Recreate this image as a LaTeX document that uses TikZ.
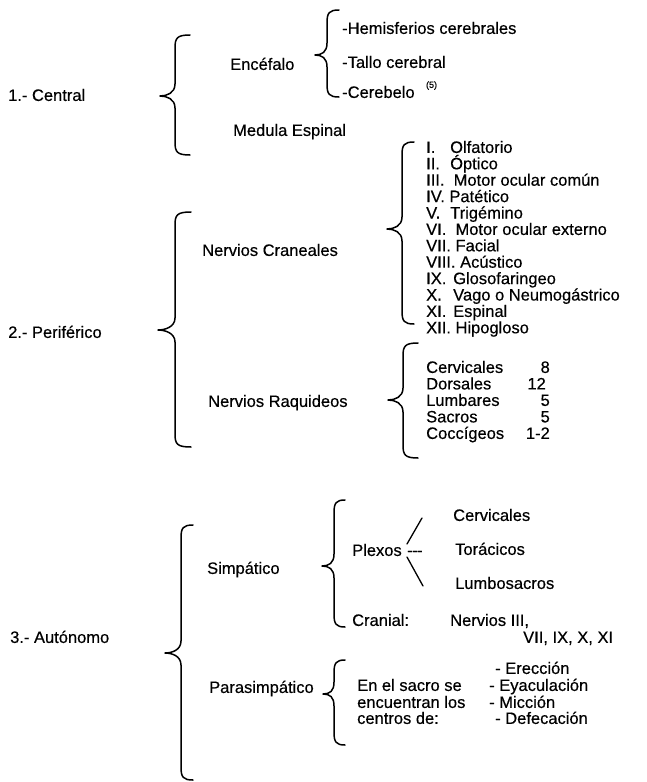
\documentclass[tikz,border=0pt]{standalone}
\usepackage{fontspec}
\setmainfont{Liberation Sans}[FakeBold=0.4]
\newcommand{\drawcurly}[6]{% tip x, vertical x, end x, top y, tip y, bottom y
  \draw[brc] (#3,#4) .. controls (#2+2,#4) and (#2,#4+3) .. (#2,#4+13)
    -- (#2,#5-12) .. controls (#2,#5-3) and (#1+7,#5) .. (#1,#5)
    .. controls (#1+7,#5) and (#2,#5+3) .. (#2,#5+12)
    -- (#2,#6-13) .. controls (#2,#6-3) and (#2+2,#6) .. (#3,#6);}
\begin{document}
\begin{tikzpicture}[x=1pt,y=-1pt,
  lbl/.style={anchor=base west, inner sep=0pt, yshift=-5.9pt, font=\fontsize{16.5}{18}\selectfont},
  num/.style={anchor=base east, inner sep=0pt, yshift=-5.9pt, font=\fontsize{16.5}{18}\selectfont},
  brc/.style={draw=black, line width=1.5pt, line cap=round, line join=round},
  stroke/.style={draw=black, line width=1.3pt, line cap=round}]
\useasboundingbox (0,0) rectangle (646,782);
\fill[white] (0,0) rectangle (646,782);

% ---------- 1. Central
\node[lbl] (central) at (8,95) {1.- Central};
\drawcurly{160}{175}{190}{35}{96}{155}
\node[lbl] (encefalo) at (230,64) {Encéfalo};
\node[lbl] (medula) at (233,130) {Medula Espinal};
\drawcurly{315}{327}{339}{10}{55}{97}
\node[lbl] (hemis) at (342,28) {-Hemisferios cerebrales};
\node[lbl] (tallo) at (342,62) {-Tallo cerebral};
\node[lbl] (cerebelo) at (342,92) {-Cerebelo};
\node[anchor=base west, inner sep=0pt, font=\fontsize{9}{10}\selectfont] (ref5) at ([xshift=11pt,yshift=10pt]cerebelo.base east) {(5)};

% ---------- 2. Periferico
\node[lbl] (perif) at (8,332) {2.- Periférico};
\drawcurly{158}{175}{191}{212}{330}{447}
\node[lbl] (craneales) at (202,250) {Nervios Craneales};
\node[lbl] (raquideos) at (208,401) {Nervios Raquideos};
\drawcurly{387}{402}{414}{142}{229}{324}
\node[lbl] (c1) at (426,147) {\makebox[24pt][l]{I.}Olfatorio};
\node[lbl] (c2) at (426,163.4) {\makebox[24pt][l]{II.}Óptico};
\node[lbl] (c3) at (426,179.8) {III.\ \ Motor ocular común};
\node[lbl] (c4) at (426,196.2) {IV. Patético};
\node[lbl] (c5) at (426,212.6) {\makebox[24pt][l]{V.}Trigémino};
\node[lbl] (c6) at (426,229) {VI.\ \ Motor ocular externo};
\node[lbl] (c7) at (426,245.4) {VII. Facial};
\node[lbl] (c8) at (426,261.8) {VIII. Acústico};
\node[lbl] (c9) at (426,278.2) {\makebox[27pt][l]{IX.}Glosofaringeo};
\node[lbl] (c10) at (426,294.6) {\makebox[27pt][l]{X.}Vago o Neumogástrico};
\node[lbl] (c11) at (426,311) {\makebox[27pt][l]{XI.}Espinal};
\node[lbl] (c12) at (426,327.4) {XII. Hipogloso};
\drawcurly{388}{403}{418}{343}{400}{458}
\node[lbl] (r1) at (426,367) {Cervicales};
\node[lbl] (r2) at (426,383.5) {Dorsales};
\node[lbl] (r3) at (426,400) {Lumbares};
\node[lbl] (r4) at (426,416.5) {Sacros};
\node[lbl] (r5) at (426,433) {Coccígeos};
\node[num] (n1) at (550,367) {8};
\node[num] (n2) at (546,383.5) {12};
\node[num] (n3) at (550,400) {5};
\node[num] (n4) at (550,416.5) {5};
\node[num] (n5) at (550,433) {1-2};

% ---------- 3. Autonomo
\node[lbl] (auto) at (10,637) {3.- Autónomo};
\drawcurly{165}{181}{193}{525}{653}{780}
\node[lbl] (simp) at (207,568) {Simpático};
\node[lbl] (para) at (209,687) {Parasimpático};
\drawcurly{322}{334}{345}{500}{566}{627}
\node[lbl] (plexos) at (352,550) {Plexos\,\,-\kern-0.6pt-\kern-0.6pt-};
\coordinate (u1) at (407,544);
\coordinate (u2) at (422,518);
\coordinate (d1) at (407,557);
\coordinate (d2) at (423,586);
\draw[stroke] (u1) -- (u2);
\draw[stroke] (d1) -- (d2);
\node[lbl] (cerv) at (453,515) {Cervicales};
\node[lbl] (torac) at (455,549) {Torácicos};
\node[lbl] (lumbo) at (455,583) {Lumbosacros};
\node[lbl] (cranial) at (352,620) {Cranial:};
\node[lbl] (nerv3) at (450,620) {Nervios III,};
\node[lbl] (nerv7) at (523,637) {VII, IX, X, XI};
\drawcurly{323}{334}{345}{660}{694}{745}
\node[lbl] (sacro1) at (357,685) {En el sacro se};
\node[lbl] (sacro2) at (357,702) {encuentran los};
\node[lbl] (sacro3) at (357,718) {centros de:};
\node[lbl] (e1) at (495,668) {- Erección};
\node[lbl] (e2) at (489,685) {- Eyaculación};
\node[lbl] (e3) at (489,702) {- Micción};
\node[lbl] (e4) at (495,718) {- Defecación};
\end{tikzpicture}
\end{document}
